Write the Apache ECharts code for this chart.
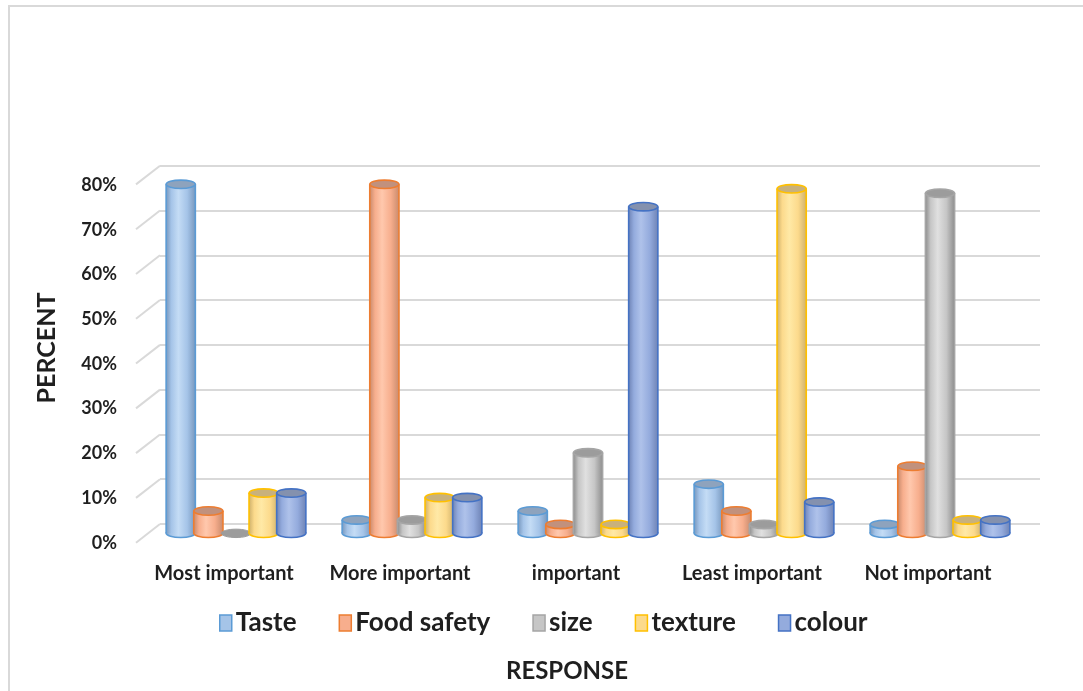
<!DOCTYPE html>
<html>
<head>
<meta charset="utf-8">
<title>Response by attribute</title>
<script src="https://cdn.jsdelivr.net/npm/echarts@6/dist/echarts.min.js"></script>
<style>
  html, body { margin: 0; padding: 0; background: #ffffff; }
  #chart { width: 1083px; height: 691px; }
</style>
</head>
<body>
<div id="chart"></div>
<script>
// Response categories (x axis)
const categories = ['Most important', 'More important', 'important', 'Least important', 'Not important'];

// Percent of respondents per attribute, one value per category
const taste      = [78, 3, 5, 11, 2];
const foodSafety = [5, 78, 2, 5, 15];
const size       = [0, 3, 18, 2, 76];
const texture    = [9, 8, 2, 77, 3];
const colour     = [9, 8, 73, 7, 3];

// Value axis ticks (percent)
const yTicks = [0, 10, 20, 30, 40, 50, 60, 70, 80];

const seriesNames = ['Taste', 'Food safety', 'size', 'texture', 'colour'];
const seriesValues = [taste, foodSafety, size, texture, colour];

// Cylinder shading per series: outline, light centre, mid tone, dark edge, top cap
const palette = [
  { line: '#5b9bd5', light: '#c4dcf5', mid: '#a5c4e8', dark: '#7898be', top: '#8ea3bd' },
  { line: '#ed7d31', light: '#ffc8ad', mid: '#f7ae8d', dark: '#c98b6d', top: '#c1917d' },
  { line: '#a5a5a5', light: '#e0e0e0', mid: '#c6c6c6', dark: '#8e8e8e', top: '#9c9c9c' },
  { line: '#ffc000', light: '#ffe9a6', mid: '#fcda8c', dark: '#cfb16b', top: '#c8b17c' },
  { line: '#4472c4', light: '#afc2ea', mid: '#94abdd', dark: '#6f84b6', top: '#8491ae' }
];

// Oblique "3D" frame: back wall, bar plane (middle of depth) and front plane
const W = 1083, H = 691;
const back  = { left: 160, right: W - 1040, top: 165.7, bottom: H - 524 };
const front = { left: 136, right: W - 1016, top: 185,   bottom: H - 542.7 };
const mid = {
  left: (back.left + front.left) / 2,
  right: (back.right + front.right) / 2,
  top: (back.top + front.top) / 2,
  bottom: (back.bottom + front.bottom) / 2
};
const depthDX = back.left - front.left;
const depthDY = back.bottom - front.bottom;

const FONT = 'Lato, "Open Sans", "Liberation Sans", sans-serif';
const TEXT = '#1f1f1f';

function valueAxis(extra) {
  return Object.assign({
    type: 'value', min: 0, max: 80, interval: 10,
    axisLine: { show: false }, axisTick: { show: false },
    axisLabel: { show: false }, splitLine: { show: false }
  }, extra);
}
function catAxis(extra) {
  return Object.assign({
    type: 'category', data: categories, boundaryGap: true,
    axisLine: { show: false }, axisTick: { show: false },
    axisLabel: { show: false }, splitLine: { show: false }
  }, extra);
}

// One cylinder per data item, placed side by side inside its category band
function cylinderRenderer(si) {
  const pal = palette[si];
  return function (params, api) {
    const cat = api.value(0);
    const val = api.value(1);
    const base = api.coord([cat, 0]);
    const topPt = api.coord([cat, val]);
    const band = api.size([1, 0])[0];
    const step = band * 0.157;
    const rx = band * 0.083;
    const ry = 4.2;
    const cx = base[0] + (si - 2) * step;
    const yb = base[1];
    const yt = topPt[1];
    const grad = new echarts.graphic.LinearGradient(0, 0, 1, 0, [
      { offset: 0, color: pal.dark },
      { offset: 0.18, color: pal.mid },
      { offset: 0.42, color: pal.light },
      { offset: 0.72, color: pal.mid },
      { offset: 1, color: pal.dark }
    ]);
    const children = [];
    if (val > 0) {
      children.push({
        type: 'ellipse',
        shape: { cx: cx, cy: yb, rx: rx, ry: ry },
        style: { fill: grad, stroke: pal.line, lineWidth: 1.6 }
      });
      children.push({
        type: 'rect',
        shape: { x: cx - rx, y: yt, width: rx * 2, height: yb - yt },
        style: { fill: grad }
      });
      children.push({
        type: 'line',
        shape: { x1: cx - rx, y1: yt, x2: cx - rx, y2: yb },
        style: { stroke: pal.line, lineWidth: 1.6 }
      });
      children.push({
        type: 'line',
        shape: { x1: cx + rx, y1: yt, x2: cx + rx, y2: yb },
        style: { stroke: pal.line, lineWidth: 1.6 }
      });
    }
    children.push({
      type: 'ellipse',
      shape: { cx: cx, cy: yt, rx: rx, ry: ry },
      style: val > 0
        ? { fill: pal.top, stroke: pal.line, lineWidth: 1.6 }
        : { fill: pal.top, stroke: pal.top, lineWidth: 1 }
    });
    return { type: 'group', children: children };
  };
}

const barSeries = seriesNames.map(function (name, si) {
  return {
    name: name,
    type: 'custom',
    xAxisIndex: 1,
    yAxisIndex: 1,
    renderItem: cylinderRenderer(si),
    itemStyle: { color: palette[si].mid, borderColor: palette[si].line },
    data: seriesValues[si].map(function (v, i) { return [i, v]; }),
    z: 3
  };
});

// Short slanted lines on the side wall joining each gridline to the front plane
const sideWall = {
  type: 'custom',
  xAxisIndex: 0,
  yAxisIndex: 0,
  silent: true,
  renderItem: function (params, api) {
    const p = api.coord([0, api.value(1)]);
    const x0 = params.coordSys.x;
    return {
      type: 'line',
      shape: { x1: x0, y1: p[1], x2: x0 - depthDX, y2: p[1] + depthDY },
      style: { stroke: '#d9d9d9', lineWidth: 2 }
    };
  },
  data: yTicks.map(function (v) { return [0, v]; }),
  z: 1
};

const chart = echarts.init(document.getElementById('chart'), null, { renderer: 'canvas' });
chart.setOption({
  backgroundColor: '#ffffff',
  animation: false,
  textStyle: { fontFamily: FONT },
  grid: [
    Object.assign({ containLabel: false }, back),
    Object.assign({ containLabel: false }, mid),
    Object.assign({ containLabel: false }, front)
  ],
  xAxis: [
    catAxis({ gridIndex: 0 }),
    catAxis({ gridIndex: 1 }),
    catAxis({
      gridIndex: 2,
      axisLabel: {
        show: true, interval: 0, hideOverlap: false, margin: 21, color: TEXT,
        fontFamily: FONT, fontWeight: 'bold', fontSize: 20
      }
    })
  ],
  yAxis: [
    valueAxis({
      gridIndex: 0,
      splitLine: { show: true, lineStyle: { color: '#d9d9d9', width: 2 } }
    }),
    valueAxis({ gridIndex: 1 }),
    valueAxis({
      gridIndex: 2,
      axisLabel: {
        show: true, margin: 19, color: TEXT,
        fontFamily: FONT, fontWeight: 'bold', fontSize: 18,
        formatter: '{value}%'
      }
    })
  ],
  legend: {
    left: 214,
    top: 605,
    itemWidth: 12,
    itemHeight: 16,
    itemGap: 42,
    icon: 'rect',
    textStyle: { color: TEXT, fontFamily: FONT, fontWeight: 'bold', fontSize: 26, padding: [0, 0, 0, -1] },
    data: seriesNames.map(function (n, i) {
      return {
        name: n,
        itemStyle: { color: palette[i].mid, borderColor: palette[i].line, borderWidth: 1.5 }
      };
    })
  },
  graphic: [
    {
      type: 'polyline',
      shape: { points: [[9, H], [9, 6], [W, 6]] },
      style: { stroke: '#d9d9d9', lineWidth: 2, fill: null },
      silent: true
    },
    {
      type: 'text',
      x: 47, y: 348,
      rotation: Math.PI / 2,
      style: {
        text: 'PERCENT', fill: TEXT, align: 'center', verticalAlign: 'middle',
        font: 'bold 25px ' + FONT
      }
    },
    {
      type: 'text',
      x: 567, y: 671,
      style: {
        text: 'RESPONSE', fill: TEXT, align: 'center', verticalAlign: 'middle',
        font: 'bold 24px ' + FONT
      }
    }
  ],
  series: [sideWall].concat(barSeries)
});
</script>
</body>
</html>
